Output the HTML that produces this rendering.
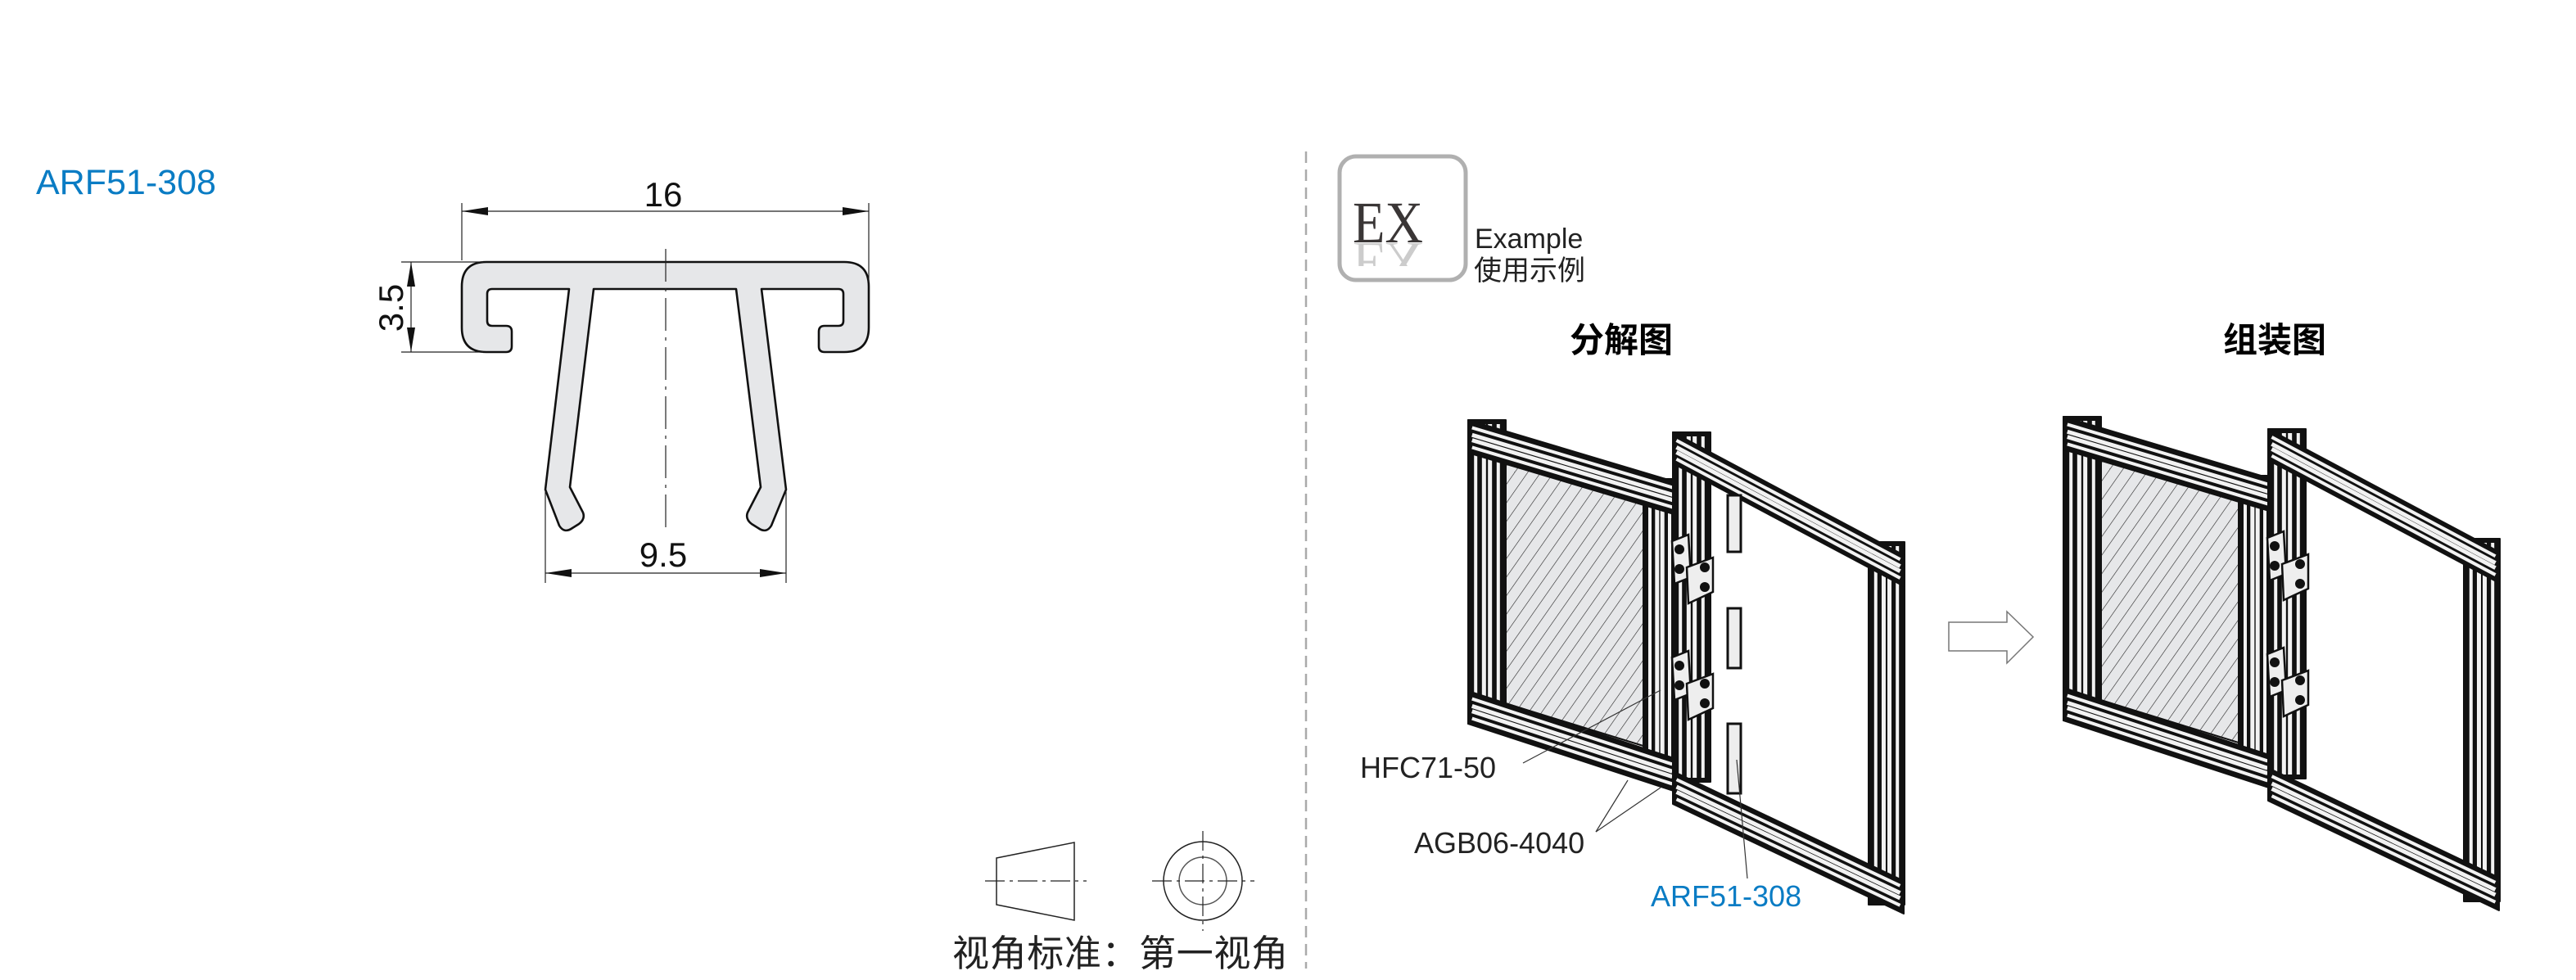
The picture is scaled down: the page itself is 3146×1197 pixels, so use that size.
<!DOCTYPE html>
<html><head><meta charset="utf-8"><style>
html,body{margin:0;padding:0;background:#fff;}
svg{display:block;}
.s{font-family:"Liberation Sans","Noto Sans CJK SC",sans-serif;}
.sf{font-family:"Liberation Serif","Noto Serif CJK SC",serif;}
</style></head><body>
<svg id="s" width="3146" height="1197" viewBox="0 0 3146 1197" xmlns="http://www.w3.org/2000/svg">
<defs>
<pattern id="hatch" patternUnits="userSpaceOnUse" width="13" height="13" patternTransform="rotate(35)">
<rect width="13" height="13" fill="#e6e7e9"/>
<line x1="0" y1="0" x2="0" y2="13" stroke="#222" stroke-width="1.2"/>
</pattern>
</defs>

<text class="s" x="44" y="237" font-size="43" fill="#0a7cc4">ARF51-308</text>

<path d="M594,320 L1031,320 Q1061,320 1061,350 L1061,400 Q1061,430 1031,430 L1007,430 Q1000,430 1000,423 L1000,405 Q1000,398 1007,398 L1024,398 Q1030,398 1030,392 L1030,359 Q1030,353 1024,353 L930,353 L960,598 L942,642 Q936,652 926,645 L918,640 Q910,634 913,626 L929,595 L899,353 L725,353 L696,595 L712,626 Q715,634 707,640 L699,645 Q689,652 683,642 L666,598 L695,353 L601,353 Q595,353 595,359 L595,392 Q595,398 601,398 L618,398 Q625,398 625,405 L625,423 Q625,430 618,430 L594,430 Q564,430 564,400 L564,350 Q564,320 594,320 Z" fill="#e6e7e9" stroke="#111" stroke-width="2.6" stroke-linejoin="round"/>
<line x1="813" y1="304" x2="813" y2="652" stroke="#222" stroke-width="1.2" stroke-dasharray="40,8,4,8"/>
<g stroke="#222" stroke-width="1.2">
<line x1="564" y1="248" x2="564" y2="318"/><line x1="1061" y1="248" x2="1061" y2="345"/>
<line x1="564" y1="258" x2="1061" y2="258"/>
<line x1="666" y1="600" x2="666" y2="712"/><line x1="960" y1="600" x2="960" y2="712"/>
<line x1="666" y1="700" x2="960" y2="700"/>
<line x1="490" y1="320" x2="590" y2="320"/><line x1="490" y1="430" x2="590" y2="430"/>
<line x1="502" y1="320" x2="502" y2="430"/>
</g>
<g fill="#111">
<polygon points="564,258 596,253 596,263"/><polygon points="1061,258 1029,253 1029,263"/>
<polygon points="666,700 698,695 698,705"/><polygon points="960,700 928,695 928,705"/>
<polygon points="502,320 497,350 507,350"/><polygon points="502,430 497,400 507,400"/>
</g>
<text class="s" x="810" y="252" font-size="42" text-anchor="middle" fill="#111">16</text>
<text class="s" x="810" y="692" font-size="42" text-anchor="middle" fill="#111">9.5</text>
<text class="s" transform="translate(492,376) rotate(-90)" font-size="42" text-anchor="middle" fill="#111">3.5</text>

<g stroke="#222" stroke-width="1.5" fill="none">
<polygon points="1217,1048 1312,1029 1312,1124 1217,1105"/>
<line x1="1203" y1="1076" x2="1327" y2="1076" stroke-dasharray="24,6,4,6" stroke-width="1.2"/>
<circle cx="1469" cy="1076" r="48"/><circle cx="1469" cy="1076" r="29" stroke="#555"/>
<line x1="1407" y1="1076" x2="1532" y2="1076" stroke-dasharray="24,6,4,6" stroke-width="1.2"/>
<line x1="1469" y1="1015" x2="1469" y2="1137" stroke-dasharray="24,6,4,6" stroke-width="1.2"/>
</g>
<text class="s" x="1163" y="1180" font-size="45" fill="#222" textLength="410">视角标准：第一视角</text>

<line x1="1595" y1="185" x2="1595" y2="1183" stroke="#aaa" stroke-width="2.5" stroke-dasharray="14,8"/>

<rect x="1636" y="191" width="154" height="151" rx="20" fill="#fff" stroke="#b0b0b0" stroke-width="5"/>
<text class="sf" x="1652" y="296" font-size="72" fill="#3a3636" textLength="86" lengthAdjust="spacingAndGlyphs">EX</text>
<clipPath id="rc"><rect x="1640" y="297" width="140" height="28"/></clipPath>
<g clip-path="url(#rc)"><text class="sf" transform="translate(0,592) scale(1,-1)" x="1652" y="296" font-size="72" fill="#ccc" textLength="86" lengthAdjust="spacingAndGlyphs">EX</text></g>
<text class="s" x="1801" y="303" font-size="34" fill="#222">Example</text>
<text class="s" x="1800" y="342" font-size="34" fill="#222">使用示例</text>

<text class="s" x="1980" y="430" font-size="42" font-weight="bold" text-anchor="middle" fill="#000">分解图</text>
<text class="s" x="2778" y="430" font-size="42" font-weight="bold" text-anchor="middle" fill="#000">组装图</text>

<polygon points="2380,760 2451,760 2451,747 2483,778 2451,810 2451,795 2380,795" fill="#fff" stroke="#777" stroke-width="1.5"/>

<g id="ex"></g>
<g id="as" transform="translate(727,-4)"></g>

<g stroke="#333" stroke-width="1.2">
<line x1="1860" y1="932" x2="2028" y2="843"/>
<line x1="1949" y1="1016" x2="1988" y2="953"/><line x1="1949" y1="1016" x2="2028" y2="962"/>
<line x1="2134" y1="1073" x2="2121" y2="928"/>
</g>
<text class="s" x="1661" y="950" font-size="36" fill="#222">HFC71-50</text>
<text class="s" x="1727" y="1042" font-size="36" fill="#222">AGB06-4040</text>
<text class="s" x="2016" y="1107" font-size="36" fill="#0a7cc4">ARF51-308</text>
</svg>
<script>
var NS="http://www.w3.org/2000/svg";
function el(p,t,a){var e=document.createElementNS(NS,t);for(var k in a)e.setAttribute(k,a[k]);p.appendChild(e);return e;}
function bar(g,ax,ay,bx,by,dx,dy){
 el(g,"polygon",{points:ax+","+ay+" "+bx+","+by+" "+(bx+dx)+","+(by+dy)+" "+(ax+dx)+","+(ay+dy),fill:"#111",stroke:"#111","stroke-width":2,"stroke-linejoin":"round"});
 var L=Math.hypot(bx-ax,by-ay),ux=(bx-ax)/L,uy=(by-ay)/L,ins=5;
 [0.2,0.42,0.58,0.8].forEach(function(t,i){
  el(g,"line",{x1:ax+ux*ins+dx*t,y1:ay+uy*ins+dy*t,x2:bx-ux*ins+dx*t,y2:by-uy*ins+dy*t,stroke:"#f2f2f2","stroke-width":(i==1||i==2)?5:4});
 });
}
function hinge(g,x,y){
 el(g,"polygon",{points:(x)+","+(y+8)+" "+(x+20)+","+(y)+" "+(x+23)+","+(y+52)+" "+(x+3)+","+(y+60),fill:"#eee",stroke:"#111","stroke-width":2.5});
 el(g,"polygon",{points:(x+18)+","+(y+40)+" "+(x+50)+","+(y+28)+" "+(x+50)+","+(y+70)+" "+(x+20)+","+(y+84),fill:"#eee",stroke:"#111","stroke-width":2.5});
 [[x+9,y+18],[x+9,y+42],[x+40,y+40],[x+40,y+64]].forEach(function(c){el(g,"circle",{cx:c[0],cy:c[1],r:6,fill:"#111"});});
}
function frames(g,strips){
 el(g,"polygon",{points:"1832,552 2010,607 2010,912 1832,857",fill:"url(#hatch)",stroke:"#111","stroke-width":2});
 bar(g,2007,585,2007,930,40,0);
 bar(g,1793,513,1793,884,46,0);
 bar(g,1793,513,2051,590,0,40);
 bar(g,1793,844,2047,927,0,40);
 bar(g,2282,662,2282,1105,44,0);
 bar(g,2043,528,2043,955,46,0);
 bar(g,2043,528,2325,678,0,38);
 bar(g,2043,942,2325,1076,0,40);
 hinge(g,2042,653);hinge(g,2042,795);
 if(strips){
  [[605,674],[743,816],[884,969]].forEach(function(s){el(g,"rect",{x:2110,y:s[0],width:16,height:s[1]-s[0],fill:"#eee",stroke:"#111","stroke-width":3});});
 }
}
frames(document.getElementById("ex"),true);
frames(document.getElementById("as"),false);
</script>
</body></html>
